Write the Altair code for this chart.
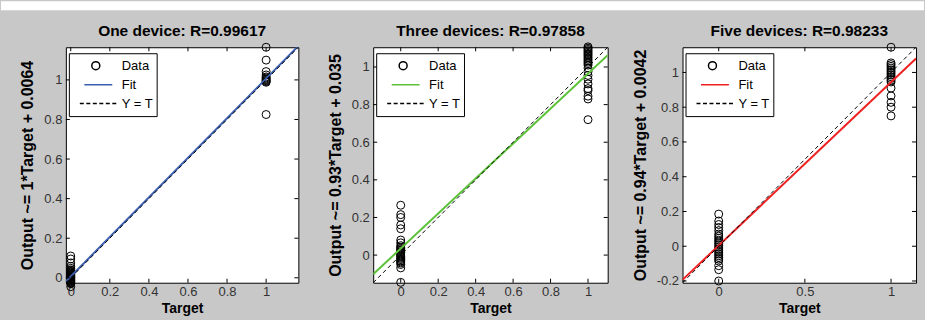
import altair as alt
import pandas as pd

FONT = "Liberation Sans, Arial, sans-serif"

titles = ["One device: R=0.99617", "Three devices: R=0.97858", "Five devices: R=0.98233"]
ytitles = ["Output ~= 1*Target + 0.0064", "Output ~= 0.93*Target + 0.035", "Output ~= 0.94*Target + 0.0042"]
slopes = [1.0, 0.93, 0.94]
intercepts = [0.0064, 0.035, 0.0042]
fit_colors = ["#3d5fb0", "#5cc239", "#ee2222"]
lims = [(-0.025, 1.165), (-0.147, 1.105), (-0.21, 1.145)]
x_ticks = [[0, 0.2, 0.4, 0.6, 0.8, 1], [0, 0.2, 0.4, 0.6, 0.8, 1], [0, 0.5, 1]]
y_ticks = [[0, 0.2, 0.4, 0.6, 0.8, 1], [0, 0.2, 0.4, 0.6, 0.8, 1], [-0.2, 0, 0.2, 0.4, 0.6, 0.8, 1]]

# outputs for target = 0 and target = 1, per panel
out_t0 = [
    [0.11, 0.095, 0.075, 0.058, 0.048, 0.04, 0.036, 0.032, 0.029, 0.026, 0.023, 0.02, 0.017,
     0.014, 0.011, 0.008, 0.005, 0.002, 0.0, -0.003, -0.006, -0.009, -0.012, -0.015, -0.018,
     -0.021, -0.024, -0.027, -0.03, -0.045],
    [0.265, 0.215, 0.2, 0.16, 0.14, 0.08, 0.065, 0.05, 0.042, 0.036, 0.03, 0.024, 0.018,
     0.012, 0.006, 0.0, -0.006, -0.012, -0.018, -0.024, -0.03, -0.036, -0.042, -0.05,
     -0.068, -0.145],
    [0.185, 0.145, 0.125, 0.108, 0.09, 0.07, 0.058, 0.046, 0.035, 0.025, 0.015, 0.005, -0.005,
     -0.015, -0.025, -0.035, -0.045, -0.055, -0.065, -0.075, -0.085, -0.112, -0.135, -0.2],
]
out_t1 = [
    [1.165, 1.1, 1.042, 1.025, 1.015, 1.01, 1.005, 1.0, 0.996, 0.992, 0.988, 0.825],
    [1.107, 1.1, 1.093, 1.086, 1.079, 1.072, 1.065, 1.058, 1.05, 1.042, 1.034, 1.026, 1.018,
     1.01, 0.995, 0.975, 0.955, 0.935, 0.91, 0.885, 0.875, 0.845, 0.83, 0.72],
    [1.145, 1.055, 1.045, 1.035, 1.025, 1.015, 1.005, 0.995, 0.985, 0.975, 0.965, 0.955,
     0.945, 0.91, 0.865, 0.828, 0.8, 0.75],
]

legend_names = ["Data", "Fit", "Y = T"]
widths = [233, 235, 234]
H = 236

LINE_PATH = "M-0.688,0L0.989,0"
DASH_PATH = ("M-0.688,0L-0.516,0M-0.408,0L-0.236,0M-0.128,0L0.044,0"
             "M0.152,0L0.324,0M0.432,0L0.604,0M0.712,0L0.884,0")
LEG_SIZE = 2162


def make_legend():
    return alt.Legend(
        title=None, orient="none", legendX=3, legendY=6, columns=1,
        fillColor="white", strokeColor="black", padding=3, cornerRadius=0,
        labelFont=FONT, labelFontSize=13, labelColor="black", labelOffset=2,
        symbolStrokeWidth=1.5, symbolOpacity=1, clipHeight=19, rowPadding=0,
    )


def panel(i):
    W = widths[i]
    lo, hi = lims[i]
    sc = alt.Scale(domain=[lo, hi], nice=False, zero=False)
    t0, t1 = out_t0[i], out_t1[i]
    pts = pd.DataFrame({
        "target": [0.0] * len(t0) + [1.0] * len(t1),
        "output": t0 + t1,
        "series": ["Data"] * (len(t0) + len(t1)),
    })
    fit = pd.DataFrame({"target": [lo, hi],
                        "output": [slopes[i] * lo + intercepts[i], slopes[i] * hi + intercepts[i]]})
    ident = pd.DataFrame({"target": [lo, hi], "output": [lo, hi]})

    xaxis = alt.Axis(values=x_ticks[i], title="Target", labelExpr="datum.value + ''",
                     ticks=False, domain=False, grid=False,
                     labelFont=FONT, labelFontSize=13, labelColor="#333333", labelPadding=3,
                     titleFont=FONT, titleFontSize=14, titleFontWeight="bold", titleColor="black",
                     titlePadding=3)
    yaxis = alt.Axis(values=y_ticks[i], title=ytitles[i], labelExpr="datum.value + ''",
                     ticks=False, domain=False, grid=False,
                     labelFont=FONT, labelFontSize=13, labelColor="#333333", labelPadding=4,
                     titleFont=FONT, titleFontSize=16, titleFontWeight="bold", titleColor="black",
                     titlePadding=8)
    X = alt.X("target:Q", scale=sc, axis=xaxis)
    Y = alt.Y("output:Q", scale=sc, axis=yaxis)

    points = alt.Chart(pts).mark_point(filled=False, strokeWidth=1, opacity=1).encode(
        x=X, y=Y,
        color=alt.Color("series:N", scale=alt.Scale(domain=legend_names,
                        range=["black", fit_colors[i], "black"]), legend=make_legend()),
        shape=alt.Shape("series:N", scale=alt.Scale(domain=legend_names,
                        range=["circle", LINE_PATH, DASH_PATH]), legend=make_legend()),
        size=alt.Size("series:N", scale=alt.Scale(domain=legend_names,
                      range=[64, LEG_SIZE, LEG_SIZE]), legend=make_legend()),
    )
    fit_line = alt.Chart(fit).mark_line(color=fit_colors[i], strokeWidth=2, clip=True).encode(x=X, y=Y)
    id_line = alt.Chart(ident).mark_line(color="black", strokeWidth=1, strokeDash=[4, 3],
                                         clip=True).encode(x=X, y=Y)

    ydf = pd.DataFrame({"output": y_ticks[i]})
    xdf = pd.DataFrame({"target": x_ticks[i]})
    tl = alt.Chart(ydf).mark_rule(color="black").encode(y=Y, x=alt.value(0), x2=alt.value(4))
    tr = alt.Chart(ydf).mark_rule(color="black").encode(y=Y, x=alt.value(W - 4), x2=alt.value(W))
    tb = alt.Chart(xdf).mark_rule(color="black").encode(x=X, y=alt.value(H - 4), y2=alt.value(H))
    tt = alt.Chart(xdf).mark_rule(color="black").encode(x=X, y=alt.value(0), y2=alt.value(4))

    ttl = alt.Chart(pd.DataFrame({"t": [titles[i]]})).mark_text(
        font=FONT, fontSize=15.5, fontWeight="bold", color="black",
        align="center", baseline="alphabetic").encode(
        text="t:N", x=alt.value(W / 2), y=alt.value(-11))

    layers = [points, fit_line, id_line, tl, tr, tb, tt, ttl]
    if i == 0:
        band = alt.Chart(pd.DataFrame({"a": [0]})).mark_rect(color="white").encode(
            x=alt.value(-65), x2=alt.value(860), y=alt.value(-46), y2=alt.value(-37))
        layers = [band] + layers

    return alt.layer(*layers).properties(width=W, height=H)


chart = alt.hconcat(panel(0), panel(1), panel(2), spacing=75, bounds="flush").resolve_scale(
    color="independent", shape="independent", size="independent", x="independent", y="independent"
).resolve_legend(color="independent", shape="independent", size="independent").configure(
    background="#c8c8c8", padding={"left": 0, "top": 0, "right": 0, "bottom": 3}
).configure_view(fill="white", stroke="black", strokeWidth=1)

chart.save("out.html", embed_options={"renderer": "svg", "actions": False})
